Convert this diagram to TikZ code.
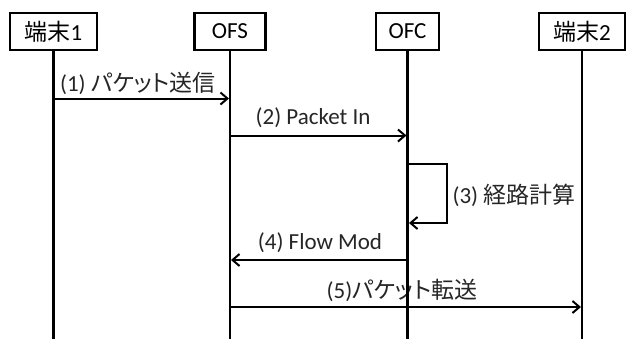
\documentclass[tikz,border=0pt]{standalone}
\usepackage{fontspec}
\setmainfont{Carlito}
\newfontfamily\jpfont[RawFeature=+palt]{Noto Sans CJK JP}
\newcommand{\jp}[1]{{\jpfont #1}}
\usetikzlibrary{arrows.meta}
\tikzset{
  actor/.style={draw=black, line width=2.6pt, fill=white, minimum height=37pt, inner sep=0pt, font=\fontsize{23}{25}\selectfont},
  lifeline/.style={line width=2.8pt},
  msg/.style={line width=2pt, -{Straight Barb[length=7pt,width=12pt,line width=2pt]}},
  lbl/.style={fill=white, inner sep=1pt, font=\fontsize{23}{25}\selectfont, text=black!85}
}
\begin{document}
\begin{tikzpicture}[x=1pt,y=-1pt]
\useasboundingbox (0,0) rectangle (627,338);
\node[actor, minimum width=87pt] (t1) at (53.5,31.5) {\jp{端末}1};
\node[actor, minimum width=71pt] (ofs) at (230,31.5) {OFS};
\node[actor, minimum width=63pt] (ofc) at (407.5,31.5) {OFC};
\node[actor, minimum width=86pt] (t2) at (582,31.5) {\jp{端末}2};
\coordinate (bot) at (0,340);
\draw[lifeline] (t1.south) -- (t1 |- bot);
\draw[lifeline] (ofs.south) -- (ofs |- bot);
\draw[lifeline] (t2.south) -- (t2 |- bot);
% (1)
\coordinate (y1) at (0,98.5);
\draw[msg] (t1 |- y1) -- ([xshift=-1pt]ofs |- y1);
\node[lbl] (l1) at (138,83) {(1) \jp{パケット送信}};
% (2)
\coordinate (y2) at (0,135.5);
\draw[msg] (ofs |- y2) -- ([xshift=-1pt]ofc |- y2);
\node[lbl] (l2) at (313,118) {(2) Packet In};
% (4)
\node[lbl] (l4) at (320,243) {(4) Flow Mod};
% (5)
\node[lbl, inner ysep=4pt] (l5) at (402,290) {(5)\jp{パケット転送}};
% OFC lifeline drawn in two parts around label 5
\draw[lifeline] (ofc.south) -- (ofc |- l5.south);
\draw[lifeline] (ofc |- 0,304) -- (ofc |- bot);
% (3)
\coordinate (y3a) at (447,164);
\coordinate (y3b) at (447,223);
\draw[line width=2.6pt] (ofc |- y3a) -- (y3a) -- (y3b) -- ([xshift=2pt]ofc |- y3b);
\draw[msg, line width=2.6pt] (y3b) -- ([xshift=1.5pt]ofc |- y3b);
\node[lbl] (l3) at (514,195) {(3) \jp{経路計算}};
\coordinate (y4) at (0,260);
\draw[msg] (ofc |- y4) -- ([xshift=1pt]ofs |- y4);
\coordinate (y5) at (0,307);
\draw[msg] (ofs |- y5) -- ([xshift=-1pt]t2 |- y5);
\end{tikzpicture}
\end{document}
